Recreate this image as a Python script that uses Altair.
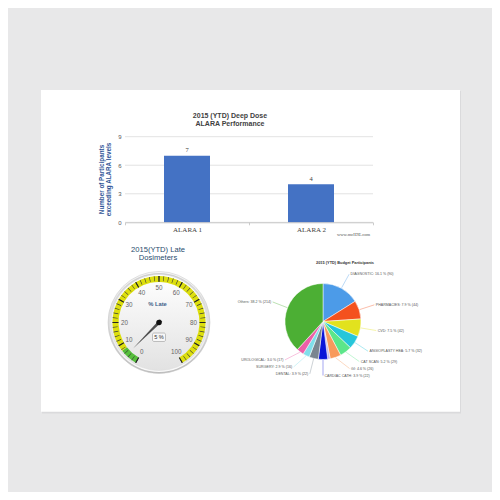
import math
import altair as alt
import pandas as pd

# ---------------- data ----------------
alara_categories = ["ALARA 1", "ALARA 2"]
alara_values = [7, 4]
alara_ticks = [0, 3, 6, 9]

late_percent = [5]
gauge_labels = [0, 10, 20, 30, 40, 50, 60, 70, 80, 90, 100]
gauge_minor = list(range(0, 101, 2))
band_from = [0, 7.5]
band_to = [7.5, 100]
band_colors = ["#55BF3B", "#DDDF0D"]

pie_names = ["DIAGNOSTIC", "PHARMACIES", "CVD", "ANGIOPLASTY HEA", "CAT SCAN", "GI",
             "NUCLEAR", "CARDIAC CATH", "DENTAL", "SURGERY", "UROLOGICAL", "Others"]
pie_counts = [90, 44, 42, 32, 29, 26, 6, 22, 22, 16, 17, 214]
pie_colors = ["#4c9be8", "#f4511e", "#e2e21e", "#26c6da", "#5ce68a", "#f89a5c",
              "#c9b8e8", "#0a14d8", "#7a8590", "#80deea", "#ec5fa8", "#4caf34"]

# ---------------- layout ----------------
FONT = "Liberation Sans"
SERIF = "Liberation Serif"
W = H = 484
one = alt.Data(values=[{"k": 0}])


def deco_rect(x, x2, y, y2, **kw):
    return alt.Chart(one).mark_rect(**kw).encode(
        x=alt.value(x), x2=alt.value(x2), y=alt.value(y), y2=alt.value(y2))


def label(txt, x, y, **kw):
    return alt.Chart(one).mark_text(**kw).encode(
        x=alt.value(x), y=alt.value(y), text=alt.value(txt))


shadow = deco_rect(34, 453, 83, 405.5, color="#dadadc")
card = deco_rect(33, 452, 82, 403.7, color="#ffffff")

# ---------------- bar chart ----------------
bar_df = pd.DataFrame({"cat": alara_categories, "v": alara_values})
grid_df = pd.DataFrame({"t": alara_ticks})
PX0, PX1 = 117, 365
Y0, Y9 = 214.3, 128.7
xs = alt.Scale(domain=alara_categories, range=[PX0, PX1], paddingInner=0, paddingOuter=0)
ys = alt.Scale(domain=[0, 9], range=[Y0, Y9], nice=False)

x_axis = alt.Axis(orient="bottom", offset=-(H - Y0), title=None, grid=False, labelAngle=0,
                  domainColor="#bfbfbf", domainWidth=0.8, tickColor="#bfbfbf", tickSize=2.5,
                  tickWidth=0.8, tickBand="extent", labelFont=SERIF, labelFontSize=7,
                  labelColor="#404040", labelPadding=0.5, zindex=2)
y_axis = alt.Axis(orient="left", offset=-PX0, values=alara_ticks, domain=False, ticks=False,
                  grid=False, labelFont=FONT, labelFontSize=6, labelColor="#595959",
                  labelPadding=4, zindex=2,
                  title=["Number of Participants", "exceeding ALARA levels"],
                  titleFont=FONT, titleFontSize=6.3, titleFontWeight="bold",
                  titleColor="#2f5597", titleAngle=270, titleX=-27, titleY=171,
                  titleAlign="center", titleBaseline="top", titleLineHeight=7.5)

grid = alt.Chart(grid_df).mark_rule(color="#d9d9d9", strokeWidth=0.75).encode(
    y=alt.Y("t:Q", scale=ys, axis=y_axis), x=alt.value(PX0), x2=alt.value(PX1))
bars = alt.Chart(bar_df).mark_bar(size=46, color="#4472C4").encode(
    x=alt.X("cat:N", scale=xs, axis=x_axis), y=alt.Y("v:Q", scale=ys, axis=y_axis))
bar_text = alt.Chart(bar_df).mark_text(dy=-2.5, baseline="bottom", font=SERIF,
                                       fontSize=6.5, color="#404040").encode(
    x=alt.X("cat:N", scale=xs, axis=x_axis), y=alt.Y("v:Q", scale=ys, axis=y_axis),
    text="v:Q")
bar_layer = alt.layer(grid, bars, bar_text)

bar_title1 = label("2015 (YTD) Deep Dose", 222, 107.7, font=FONT, fontSize=7,
                   fontWeight="bold", color="#3f3f3f", baseline="middle")
bar_title2 = label("ALARA Performance", 222, 115.5, font=FONT, fontSize=7,
                   fontWeight="bold", color="#3f3f3f", baseline="middle")
watermark = label("www.mcIDE.com", 345.5, 226.7, font=SERIF, fontSize=4.6,
                  color="#555555", baseline="middle")

# ---------------- gauge ----------------
G_CX, G_CY = 151, 314.5
th = alt.Scale(domain=[0, 100], range=[2 * math.pi - 5 * math.pi / 6, 2 * math.pi + 5 * math.pi / 6])
gxy = dict(x=alt.value(G_CX), y=alt.value(G_CY))
FULL = 2 * math.pi


def lin(c1, c2):
    return {"gradient": "linear", "x1": 0, "y1": 0, "x2": 0, "y2": 1,
            "stops": [{"offset": 0, "color": c1}, {"offset": 1, "color": c2}]}


bezel1 = alt.Chart(one).mark_arc(radius=51, theta=0, theta2=FULL, fill=lin("#f7f7f7", "#bdbdbd"),
                                 stroke="#c4c4c4", strokeWidth=0.5).encode(**gxy)
bezel2 = alt.Chart(one).mark_arc(radius=49.5, theta=0, theta2=FULL,
                                 fill=lin("#cdcdcd", "#fbfbfb")).encode(**gxy)
face = alt.Chart(one).mark_arc(radius=48, theta=0, theta2=FULL,
                               fill=lin("#ffffff", "#e2e2e2"), stroke="#dddddd",
                               strokeWidth=0.6).encode(**gxy)

band_df = pd.DataFrame({"f": band_from, "t": band_to, "c": band_colors})
bands = alt.Chart(band_df).mark_arc(radius=46.5, radius2=40.5).encode(
    theta=alt.Theta("f:Q", scale=th, stack=None), theta2="t:Q",
    color=alt.Color("c:N", scale=None), **gxy)

minor = alt.Chart(pd.DataFrame({"v": gauge_minor})).transform_calculate(
    a="datum.v - 0.13", b="datum.v + 0.13").mark_arc(radius=46.5, radius2=41.5, color="#3a3a3a").encode(
    theta=alt.Theta("a:Q", scale=th, stack=None), theta2="b:Q", **gxy)
major = alt.Chart(pd.DataFrame({"v": gauge_labels})).transform_calculate(
    a="datum.v - 0.25", b="datum.v + 0.25").mark_arc(radius=46.5, radius2=40.5, color="#222222").encode(
    theta=alt.Theta("a:Q", scale=th, stack=None), theta2="b:Q", **gxy)

g_labels = alt.Chart(pd.DataFrame({"v": gauge_labels})).mark_text(
    radius=34.5, font=FONT, fontSize=6.3, color="#666666", align="center", baseline="middle").encode(
    theta=alt.Theta("v:Q", scale=th, stack=None), text="v:Q", **gxy)

gauge_df = pd.DataFrame({"v": late_percent})
needle = alt.Chart(gauge_df).mark_point(
    shape="M -0.045 0.08 L 0 -1 L 0.045 0.08 Z", size=5400, filled=True,
    color="#505050", opacity=1, strokeWidth=0).encode(
    angle=alt.Angle("v:Q", scale=alt.Scale(domain=[0, 100], range=[210, 510])), **gxy)
pivot = alt.Chart(gauge_df).mark_point(shape="circle", filled=True, color="#111111",
                                       size=30, opacity=1).encode(**gxy)

late_title = label("% Late", G_CX - 1.5, G_CY - 18.2, font=FONT, fontSize=5.8,
                   fontWeight="bold", color="#3e5f8a", baseline="middle")
vbox = deco_rect(G_CX - 6.5, G_CX + 6.5, G_CY + 10.5, G_CY + 19, fill="#f7f7f7",
                 stroke="#9a9a9a", strokeWidth=0.6, cornerRadius=1.5)
vtext = alt.Chart(gauge_df).transform_calculate(lbl="datum.v + ' %'").mark_text(
    font=FONT, fontSize=5.6, color="#333333", baseline="middle").encode(
    x=alt.value(G_CX), y=alt.value(G_CY + 14.9), text="lbl:N")

gauge_layer = alt.layer(bezel1, bezel2, face, bands, minor, major, g_labels,
                        needle, pivot, vbox, vtext)

g_title1 = label("2015(YTD) Late", 150, 242, font=FONT, fontSize=7.6, color="#274b6d",
                 baseline="middle")
g_title2 = label("Dosimeters", 150, 250, font=FONT, fontSize=7.6, color="#274b6d",
                 baseline="middle")

# ---------------- pie ----------------
P_CX, P_CY = 315, 313.5
R_PIE = 38
R_LAB = 54
GAP = 7
pie_df = pd.DataFrame({"name": pie_names, "n": pie_counts, "idx": list(range(len(pie_names)))})
pth = alt.Scale(domain=[0, 1], range=[0, 2 * math.pi])
pxs = alt.Scale(domain=[-100, 100], range=[P_CX - 100, P_CX + 100])
pys = alt.Scale(domain=[-100, 100], range=[P_CY - 100, P_CY + 100])
pcol = alt.Color("name:N", scale=alt.Scale(domain=pie_names, range=pie_colors), legend=None)


def pie_base():
    return alt.Chart(pie_df).transform_joinaggregate(total="sum(n)").transform_window(
        cum="sum(n)", sort=[alt.SortField("idx", order="ascending")], frame=[None, 0]
    ).transform_calculate(
        s="(datum.cum - datum.n) / datum.total",
        e="datum.cum / datum.total",
        m="(datum.cum - datum.n / 2) / datum.total",
        pct="100 * datum.n / datum.total",
    )


def pie_labels():
    return pie_base().transform_calculate(
        ang="2 * PI * datum.m",
        side="datum.m <= 0.5 ? 'R' : 'L'",
        my=f"-{R_LAB} * cos(2 * PI * datum.m)",
        lbl="datum.name + ': ' + format(datum.pct, '.1f') + ' % (' + datum.n + ')'",
    ).transform_filter("datum.pct >= 1.5").transform_window(
        rk="row_number()", groupby=["side"], sort=[alt.SortField("my", order="descending")]
    ).transform_calculate(key=f"datum.my + {GAP} * datum.rk").transform_window(
        cm="min(key)", groupby=["side"], sort=[alt.SortField("my", order="descending")],
        frame=[None, 0]
    ).transform_calculate(
        ly=f"datum.cm - {GAP} * datum.rk",
    ).transform_calculate(
        lx=f"(datum.side == 'R' ? 1 : -1) * sqrt(max(0, {R_LAB * R_LAB} - datum.ly * datum.ly))",
        ex=f"{R_PIE + 0.5} * sin(datum.ang)",
        ey=f"-{R_PIE + 0.5} * cos(datum.ang)",
    )


slices = pie_base().mark_arc(radius=R_PIE, stroke="#ffffff", strokeWidth=0.5).encode(
    theta=alt.Theta("s:Q", scale=pth, stack=None), theta2="e:Q", color=pcol,
    x=alt.value(P_CX), y=alt.value(P_CY))
leaders = pie_labels().mark_rule(strokeWidth=0.5, opacity=0.75).encode(
    x=alt.X("ex:Q", scale=pxs, axis=None), y=alt.Y("ey:Q", scale=pys, axis=None),
    x2="lx:Q", y2="ly:Q", color=pcol)
lab_r = pie_labels().transform_filter("datum.side == 'R'").mark_text(
    align="left", dx=1.5, baseline="middle", font=FONT, fontSize=3.6, color="#555555").encode(
    x=alt.X("lx:Q", scale=pxs, axis=None), y=alt.Y("ly:Q", scale=pys, axis=None), text="lbl:N")
lab_l = pie_labels().transform_filter("datum.side == 'L'").mark_text(
    align="right", dx=-1.5, baseline="middle", font=FONT, fontSize=3.6, color="#555555").encode(
    x=alt.X("lx:Q", scale=pxs, axis=None), y=alt.Y("ly:Q", scale=pys, axis=None), text="lbl:N")
pie_layer = alt.layer(slices, leaders, lab_r, lab_l)

pie_title = label("2015 (YTD) Budget Participants", 337, 255.3, font=FONT, fontSize=3.9,
                  fontWeight="bold", color="#333333", baseline="middle")

chart = alt.layer(
    shadow, card, bar_layer, bar_title1, bar_title2, watermark,
    gauge_layer, g_title1, g_title2, late_title, pie_layer, pie_title
).resolve_scale(
    x="independent", y="independent", theta="independent", color="independent"
).properties(
    width=W, height=H, padding=0, autosize=alt.AutoSizeParams(type="none"),
    background="#e8e8e9"
).configure_view(stroke=None)

chart.save("out.html", embed_options={"renderer": "svg", "actions": False})
